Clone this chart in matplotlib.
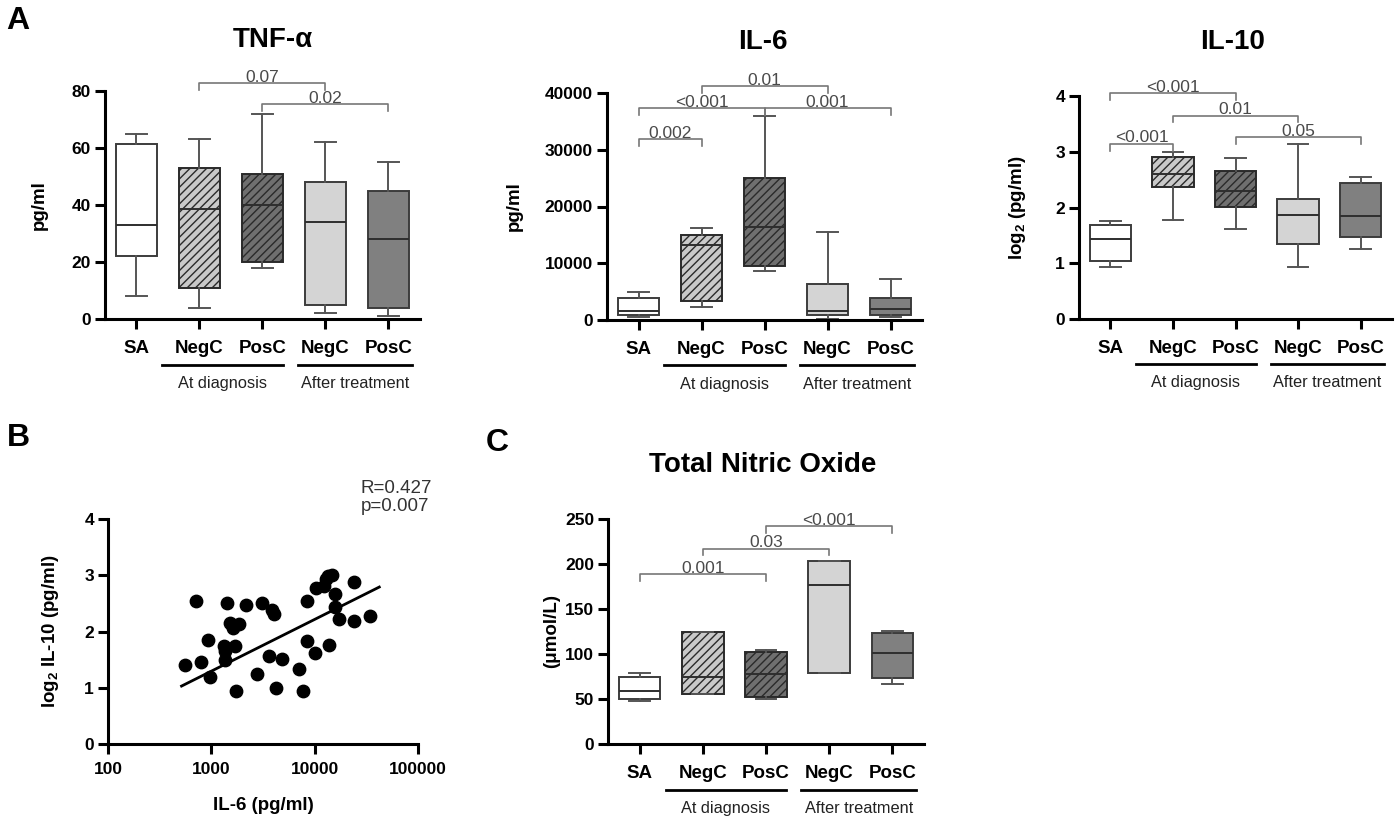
import numpy as np
import matplotlib
matplotlib.use("Agg")
import matplotlib.pyplot as plt
from matplotlib.ticker import FixedLocator, NullLocator, FixedFormatter
import matplotlib.transforms as mtransforms

plt.rcParams['font.family'] = ['Liberation Sans', 'DejaVu Sans']
plt.rcParams['mathtext.fontset'] = 'custom'
plt.rcParams['mathtext.rm'] = 'Liberation Sans:bold'
plt.rcParams['mathtext.it'] = 'Liberation Sans:bold'
plt.rcParams['mathtext.bf'] = 'Liberation Sans:bold'
plt.rcParams['hatch.linewidth'] = 1.0

# ---------------- data ----------------
categories = ["SA", "NegC", "PosC", "NegC", "PosC"]
group_labels = ["At diagnosis", "After treatment"]

# box stats: whisker low, Q1, median, Q3, whisker high
tnf_whislo = [8, 4, 18, 2, 1]
tnf_q1 = [22, 11, 20, 5, 4]
tnf_med = [33, 38.5, 40, 34, 28]
tnf_q3 = [61.5, 53, 51, 48, 45]
tnf_whishi = [65, 63, 72, 62, 55]

il6_whislo = [470, 2240, 8690, 170, 530]
il6_q1 = [880, 3400, 9570, 820, 880]
il6_med = [1580, 13200, 16300, 1580, 1880]
il6_q3 = [3800, 15000, 25000, 6340, 3820]
il6_whishi = [4870, 16150, 35900, 15500, 7280]

il10_whislo = [0.94, 1.77, 1.62, 0.94, 1.25]
il10_q1 = [1.045, 2.36, 2.01, 1.34, 1.47]
il10_med = [1.43, 2.60, 2.29, 1.87, 1.85]
il10_q3 = [1.68, 2.91, 2.66, 2.16, 2.44]
il10_whishi = [1.75, 3.00, 2.88, 3.14, 2.54]

no_whislo = [48, 55.5, 50, 79, 67]
no_q1 = [50, 55.5, 52, 79, 73]
no_med = [58.4, 74, 78, 177, 101]
no_q3 = [75, 124, 102, 203, 123]
no_whishi = [78.8, 124, 104, 203, 126]

# significance brackets: (from, to, level, p-label)
tnf_brackets = [(1, 3, 82.7, "0.07"), (2, 4, 75.3, "0.02")]
il6_brackets = [(0, 1, 31840, "0.002"), (0, 2, 37300, "<0.001"),
                (2, 4, 37300, "0.001"), (1, 3, 41200, "0.01")]
il10_brackets = [(0, 2, 4.05, "<0.001"), (1, 3, 3.65, "0.01"),
                 (2, 4, 3.26, "0.05"), (0, 1, 3.14, "<0.001")]
no_brackets = [(0, 2, 188.6, "0.001"), (1, 3, 217, "0.03"), (2, 4, 242, "<0.001")]

# scatter B: IL-6 (pg/ml) vs log2 IL-10
sc_il6 = [555, 706, 801, 929, 964, 1416, 1324, 1364, 1353, 1523, 1616, 1845, 1690,
          1727, 2188, 2769, 3116, 3641, 3892, 4008, 4250, 4853, 7019, 7672, 8440,
          8440, 10146, 10300, 12380, 12760, 13530, 14790, 13640, 15570, 15700,
          17390, 24250, 24250, 34500]
sc_il10 = [1.40, 2.55, 1.45, 1.85, 1.20, 2.51, 1.75, 1.66, 1.49, 2.16, 2.07, 2.13,
           1.75, 0.94, 2.48, 1.24, 2.51, 1.57, 2.38, 2.32, 1.00, 1.52, 1.33, 0.94,
           2.55, 1.83, 1.62, 2.77, 2.81, 2.94, 2.99, 3.00, 1.76, 2.67, 2.44, 2.22,
           2.88, 2.18, 2.27]
fit_intercept = -1.465
fit_slope = 0.92
fit_range = [515, 42200]
corr_text = "R=0.427\np=0.007"

# ---------------- style ----------------
face_colors = ["#ffffff", "#c9c9c9", "#6f6f6f", "#d4d4d4", "#808080"]
hatches = [None, "////", "////", None, None]
edge_col = "#3c3c3c"
W, H = 1399, 818

fig = plt.figure(figsize=(W / 100, H / 100), dpi=100)


def px_axes(x0, x1, ytop, ybot):
    return fig.add_axes([x0 / W, 1 - ybot / H, (x1 - x0) / W, (ybot - ytop) / H])


def style_axes(ax):
    for s in ["top", "right"]:
        ax.spines[s].set_visible(False)
    for s in ["left", "bottom"]:
        ax.spines[s].set_linewidth(2.2)
        ax.spines[s].set_color("black")
    ax.tick_params(axis="both", which="major", length=7, width=2.2, direction="out",
                   labelsize=12.5, pad=3)
    for lab in ax.get_yticklabels() + ax.get_xticklabels():
        lab.set_fontweight("bold")


def box_panel(ax, whislo, q1, med, q3, whishi, yticks, ylim, brackets, ylabel, ylab_x,
              glines_y=-0.20, gtext_y=-0.285):
    stats = []
    for i in range(len(categories)):
        stats.append(dict(whislo=whislo[i], q1=q1[i], med=med[i], q3=q3[i],
                          whishi=whishi[i], fliers=[]))
    bp = ax.bxp(stats, positions=range(len(categories)), widths=0.66,
                patch_artist=True, showfliers=False,
                boxprops=dict(linewidth=1.4, edgecolor=edge_col),
                medianprops=dict(color="#2e2e2e", linewidth=1.4),
                whiskerprops=dict(color="#555555", linewidth=1.4),
                capprops=dict(color="#555555", linewidth=1.4))
    for patch, fc, h in zip(bp["boxes"], face_colors, hatches):
        patch.set_facecolor(fc)
        if h:
            patch.set_hatch(h)
            patch.set_edgecolor("#2a2a2a")
    ax.set_xlim(-0.5, 4.5)
    ax.set_ylim(*ylim)
    ax.yaxis.set_major_locator(FixedLocator(yticks))
    ax.set_yticklabels([str(t) for t in yticks])
    ax.set_xticks(range(len(categories)))
    ax.set_xticklabels(categories)
    style_axes(ax)
    ax.tick_params(axis="x", labelsize=13.5, pad=8)
    ax.set_ylabel(ylabel, fontsize=13.5, fontweight="bold")
    ax.yaxis.set_label_coords(ylab_x, 0.5)
    # brackets
    span = ylim[1] - ylim[0]
    for (i, j, lev, lab) in brackets:
        leg = 0.03 * span
        ax.plot([i, i, j, j], [lev - leg, lev, lev, lev - leg], color="#777777",
                lw=1.2, clip_on=False)
        ax.text((i + j) / 2, lev - 0.006 * span, lab, ha="center", va="bottom",
                fontsize=12.5, color="#4a4a4a", clip_on=False)
    # group lines
    trans = mtransforms.blended_transform_factory(ax.transData, ax.transAxes)
    for (a, b), lab in zip([(0.41, 2.32), (2.56, 4.38)], group_labels):
        ax.plot([a, b], [glines_y, glines_y], color="black", lw=2, transform=trans,
                clip_on=False)
        ax.text((a + b) / 2, gtext_y, lab, transform=trans, ha="center", va="center",
                fontsize=11.8, color="#222222")


# Panel A
ax1 = px_axes(105, 420, 91, 319)
box_panel(ax1, tnf_whislo, tnf_q1, tnf_med, tnf_q3, tnf_whishi,
          [0, 20, 40, 60, 80], (0, 80), tnf_brackets, "pg/ml", -0.18)
ax2 = px_axes(607, 922, 93, 320)
box_panel(ax2, il6_whislo, il6_q1, il6_med, il6_q3, il6_whishi,
          [0, 10000, 20000, 30000, 40000], (0, 40000), il6_brackets, "pg/ml", -0.267)
ax3 = px_axes(1079, 1392, 96, 319)
box_panel(ax3, il10_whislo, il10_q1, il10_med, il10_q3, il10_whishi,
          [0, 1, 2, 3, 4], (0, 4), il10_brackets, r"log$_2$ (pg/ml)", -0.163)

# Panel C
ax5 = px_axes(608, 924, 519, 744)
box_panel(ax5, no_whislo, no_q1, no_med, no_q3, no_whishi,
          [0, 50, 100, 150, 200, 250], (0, 250), no_brackets, "(\u03bcmol/L)", -0.152,
          glines_y=-0.205, gtext_y=-0.285)

# Panel B scatter
ax4 = px_axes(108, 418, 519, 744)
ax4.scatter(sc_il6, sc_il10, s=80, color="black", zorder=3, clip_on=False)
xf = np.array(fit_range, dtype=float)
ax4.plot(xf, fit_intercept + fit_slope * np.log10(xf), color="black", lw=2)
ax4.set_xscale("log")
ax4.set_xlim(100, 100000)
ax4.set_ylim(0, 4)
ax4.xaxis.set_major_locator(FixedLocator([100, 1000, 10000, 100000]))
ax4.xaxis.set_major_formatter(FixedFormatter(["100", "1000", "10000", "100000"]))
ax4.xaxis.set_minor_locator(NullLocator())
ax4.yaxis.set_major_locator(FixedLocator([0, 1, 2, 3, 4]))
ax4.set_yticklabels(["0", "1", "2", "3", "4"])
style_axes(ax4)
ax4.tick_params(axis="x", pad=6)
ax4.set_ylabel(r"log$_2$ IL-10 (pg/ml)", fontsize=13.5, fontweight="bold")
ax4.yaxis.set_label_coords(-0.152, 0.5)
ax4.set_xlabel("IL-6 (pg/ml)", fontsize=13.5, fontweight="bold")
ax4.xaxis.set_label_coords(0.5, -0.235)
ax4.text(0.815, 1.095, corr_text, transform=ax4.transAxes, ha="left", va="center",
         fontsize=13.5, color="#333333", linespacing=1.05)

# titles
fig.text(273 / W, 1 - 40 / H, "TNF-\u03b1", ha="center", va="center", fontsize=20,
         fontweight="bold")
fig.text(763 / W, 1 - 42 / H, "IL-6", ha="center", va="center", fontsize=20,
         fontweight="bold")
fig.text(1233 / W, 1 - 42 / H, "IL-10", ha="center", va="center", fontsize=20,
         fontweight="bold")
fig.text(763 / W, 1 - 465 / H, "Total Nitric Oxide", ha="center", va="center",
         fontsize=20, fontweight="bold")
# panel letters
fig.text(18 / W, 1 - 21 / H, "A", ha="center", va="center", fontsize=23, fontweight="bold")
fig.text(18 / W, 1 - 438 / H, "B", ha="center", va="center", fontsize=23, fontweight="bold")
fig.text(497 / W, 1 - 443 / H, "C", ha="center", va="center", fontsize=23, fontweight="bold")

fig.savefig("out.png", dpi=100, facecolor="white")
